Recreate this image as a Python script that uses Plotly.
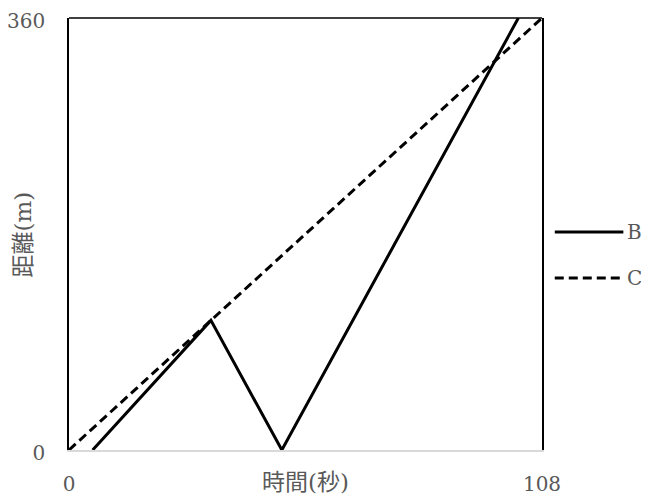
import plotly.graph_objects as go

# Data
time_B = [5.4, 32.4, 48.6, 102.6]
dist_B = [0, 108, 0, 360]
time_C = [0, 108]
dist_C = [0, 360]
x_ticks = [0, 108]
y_ticks = [0, 360]
series_names = ["B", "C"]

FONT = "DejaVu Serif, Noto Sans CJK JP, serif"
GREY = "#595959"

fig = go.Figure()
fig.add_trace(go.Scatter(x=time_B, y=dist_B, mode="lines", name=series_names[0],
                         line=dict(color="black", width=3), showlegend=False))
fig.add_trace(go.Scatter(x=time_C, y=dist_C, mode="lines", name=series_names[1],
                         line=dict(color="black", width=3, dash="9px,5px"), showlegend=False))

# top border
fig.add_shape(type="line", xref="paper", yref="paper", x0=0, x1=1, y0=1, y1=1,
              line=dict(color="black", width=1.5))

# manual legend
leg_y = [0.5046, 0.398]
dashes = ["solid", "9px,5px"]
for name, yy, d in zip(series_names, leg_y, dashes):
    fig.add_shape(type="line", xref="paper", yref="paper", x0=1.027, x1=1.172, y0=yy, y1=yy,
                  line=dict(color="black", width=3, dash=d))
    fig.add_annotation(xref="paper", yref="paper", x=1.176, y=yy, text=name, showarrow=False,
                       xanchor="left", yanchor="middle", font=dict(family=FONT, size=20, color=GREY))

# axis titles
fig.add_annotation(xref="paper", yref="paper", x=0.499, y=-0.074, text="時間(秒)", showarrow=False,
                   xanchor="center", yanchor="middle", font=dict(family=FONT, size=23, color=GREY))
fig.add_annotation(xref="paper", yref="paper", x=-0.0983, y=0.4977, text="距離(m)", showarrow=False,
                   textangle=-90, xanchor="center", yanchor="middle",
                   font=dict(family=FONT, size=23, color=GREY))

fig.update_layout(
    width=649, height=501,
    margin=dict(l=61, r=115, t=10, b=59, autoexpand=False),
    paper_bgcolor="white", plot_bgcolor="white",
    font=dict(family=FONT, size=20, color=GREY),
    showlegend=False,
    xaxis=dict(range=[0, 108], tickvals=x_ticks, ticktext=[str(v) for v in x_ticks],
               showgrid=False, zeroline=False, showline=True, linecolor="#d9d9d9", linewidth=2,
               ticks="outside", ticklen=15, tickcolor="rgba(0,0,0,0)", automargin=False,
               ticklabeloverflow="allow"),
    yaxis=dict(range=[0, 360], tickvals=y_ticks, ticktext=[str(v) for v in y_ticks],
               showgrid=False, zeroline=False, showline=True, linecolor="black", linewidth=1.5,
               mirror=True, automargin=False, ticklabeloverflow="allow", ticklabelshift=3,
               ticks="outside", ticklen=18, tickcolor="rgba(0,0,0,0)"),
)

fig.write_html("out.html")
